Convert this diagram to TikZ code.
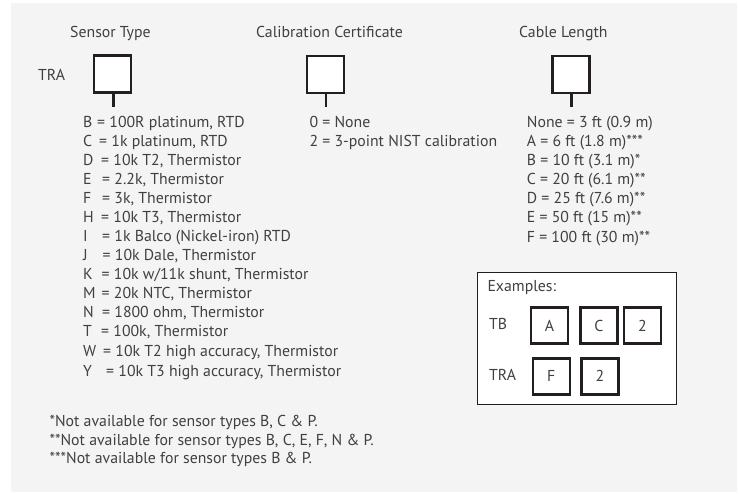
\documentclass[tikz,border=0pt]{standalone}
\usepackage{fontspec}
\setmainfont{PT Sans}
\definecolor{bggray}{HTML}{F4F4F4}
\definecolor{txt}{HTML}{404040}
\definecolor{boxline}{HTML}{231F20}
\tikzset{
  lbl/.style={anchor=base west, inner sep=0pt, text=txt, font=\fontsize{15.8}{18}\selectfont},
  codebox/.style={draw=boxline, line width=2.6pt, fill=white, minimum width=37pt, minimum height=37pt, inner sep=0pt},
  exbox/.style={draw=boxline, line width=2.4pt, fill=white, minimum width=37pt, minimum height=36pt, inner sep=0pt, text=txt, font=\fontsize{15.8}{18}\selectfont},
  stem/.style={draw=boxline, line width=2.6pt}
}
\newcommand{\sline}[5]{%
  \node[lbl] (#1l) at (83,#2) {#3};
  \node[lbl] (#1t) at (#4,#2) {= #5};}
\begin{document}
\begin{tikzpicture}[x=1pt,y=-1pt]
\useasboundingbox (0,0) rectangle (739,494);
\fill[bggray] (11,3) rectangle (737,492);
% headers
\node[lbl] (h1) at (70,38) {Sensor Type};
\node[lbl] (h2) at (256,38) {Calibration Certificate};
\node[lbl] (h3) at (519,38) {Cable Length};
\node[lbl] (tra) at (38,81) {TRA};
% code boxes
\node[codebox] (b1) at (112.5,74.2) {};
\node[codebox] (b2) at (325.5,74.7) {};
\node[codebox] (b3) at (571.2,74.5) {};
\coordinate (s1) at (113.7,107);
\coordinate (s2) at (326,107);
\coordinate (s3) at (571.7,107);
\draw[stem] (b1.south -| s1) -- (s1);
\draw[stem] (b2.south -| s2) -- (s2);
\draw[stem] (b3.south -| s3) -- (s3);
% sensor list
\sline{sb}{128}{B}{97}{100R platinum, RTD}
\sline{sc}{147}{C}{99}{1k platinum, RTD}
\sline{sd}{166}{D}{101}{10k T2, Thermistor}
\sline{se}{185}{E}{102}{2.2k, Thermistor}
\sline{sf}{204}{F}{102}{3k, Thermistor}
\sline{sh}{223}{H}{101}{10k T3, Thermistor}
\sline{si}{242}{I}{102}{1k Balco (Nickel-iron) RTD}
\sline{sj}{261}{J}{102.5}{10k Dale, Thermistor}
\sline{sk}{280}{K}{101.5}{10k w/11k shunt, Thermistor}
\sline{sm}{299}{M}{101.5}{20k NTC, Thermistor}
\sline{sn}{318}{N}{102}{1800 ohm, Thermistor}
\sline{st}{337}{T}{101}{100k, Thermistor}
\sline{sw}{356}{W}{103}{10k T2 high accuracy, Thermistor}
\sline{sy}{376}{Y}{106}{10k T3 high accuracy, Thermistor}
% calibration
\node[lbl] (c0) at (309.3,128) {0 = None};
\node[lbl] (c2) at (309.3,147) {2 = 3-point NIST calibration};
% cable
\node[lbl] (l0) at (526.7,128) {None = 3 ft (0.9 m)};
\node[lbl] (la) at (526.7,147) {A = 6 ft (1.8 m)***};
\node[lbl] (lb) at (526.7,166) {B = 10 ft (3.1 m)*};
\node[lbl] (lc) at (526.7,185) {C = 20 ft (6.1 m)**};
\node[lbl] (ld) at (526.7,204) {D = 25 ft (7.6 m)**};
\node[lbl] (le) at (526.7,223) {E = 50 ft (15 m)**};
\node[lbl] (lf) at (526.7,243) {F = 100 ft (30 m)**};
% footnotes
\node[lbl] (f1) at (49.3,426.5) {*Not available for sensor types B, C \& P.};
\node[lbl] (f2) at (49.3,445) {**Not available for sensor types B, C, E, F, N \& P.};
\node[lbl] (f3) at (49.3,463.5) {***Not available for sensor types B \& P.};
% examples
\draw[draw=boxline, line width=1pt, fill=white] (477.3,272.7) rectangle (676.7,404.3);
\node[lbl] (ex) at (487.3,291.5) {Examples:};
\node[lbl] (etb) at (489,330) {TB};
\node[lbl] (etra) at (489,381) {TRA};
\node[exbox] (ea) at (549.5,325.5) {A};
\node[exbox] (ec) at (598.9,325.5) {C};
\node[exbox] (e2) at (642.5,325.5) {2};
\node[exbox] (ef) at (551.3,376.3) {F};
\node[exbox] (e2b) at (599.9,376.3) {2};
\end{tikzpicture}
\end{document}
